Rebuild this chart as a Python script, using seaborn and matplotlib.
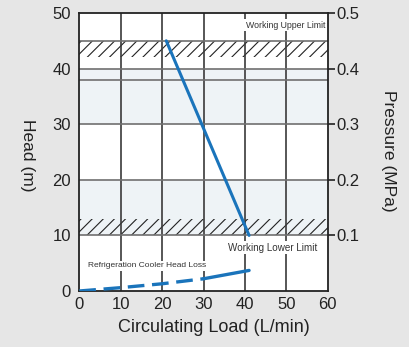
import matplotlib
matplotlib.use("Agg")
import matplotlib.pyplot as plt
import seaborn as sns
import pandas as pd

# pump curve (head vs flow)
pump_flow = [21, 41]
pump_head = [45, 10]

# refrigeration cooler head loss
loss_flow = [0, 10, 20, 30, 41]
loss_head = [0.0, 0.6, 1.3, 2.2, 3.7]

x_ticks = [0, 10, 20, 30, 40, 50, 60]
y_ticks = [0, 10, 20, 30, 40, 50]
p_ticks = [0.1, 0.2, 0.3, 0.4, 0.5]

sns.set_style("white")
plt.rcParams["font.family"] = ["Liberation Sans", "DejaVu Sans"]
plt.rcParams["hatch.linewidth"] = 0.8
plt.rcParams["hatch.color"] = "#222222"

ink = "#222222"
fig = plt.figure(figsize=(4.1, 3.47), dpi=100, facecolor="#e6e6e6")
ax = fig.add_axes([0.1934, 0.1614, 0.606, 0.8011])
ax.set_facecolor("white")

# shaded bands
ax.axhspan(30, 40, color="#eef3f6", lw=0, zorder=0)
ax.axhspan(10, 20, color="#eef3f6", lw=0, zorder=0)
# hatched limit zones
ax.axhspan(42, 45, facecolor="none", edgecolor=ink, hatch="///", lw=0, zorder=1)
ax.axhspan(10, 13, facecolor="none", edgecolor=ink, hatch="///", lw=0, zorder=1)

# grid
for xv in x_ticks[1:-1]:
    ax.axvline(xv, color="#3a3a3a", lw=1.2, zorder=2)
for yv in [10, 20, 30, 38, 40, 45]:
    ax.axhline(yv, color="#707070", lw=1.2, zorder=2)

blue = "#1a74bb"
sns.lineplot(x=pump_flow, y=pump_head, ax=ax, color=blue, lw=2.2, zorder=4)
df = pd.DataFrame({"flow": loss_flow, "head": loss_head})
sns.lineplot(data=df[df.flow <= 30], x="flow", y="head", ax=ax, color=blue, lw=2.4,
             dashes=(5, 2.3), zorder=4)
sns.lineplot(data=df[df.flow >= 30], x="flow", y="head", ax=ax, color=blue, lw=2.4, zorder=4)

box = dict(facecolor="white", edgecolor="none", pad=1)
ax.text(49.8, 47.8, "Working Upper Limit", fontsize=6.3, ha="center", va="center", color="#333333",
        bbox=box, zorder=3)
ax.text(46.7, 7.8, "Working Lower Limit", fontsize=7.1, ha="center", va="center", color="#333333",
        bbox=box, zorder=3)
ax.text(2, 4.5, "Refrigeration Cooler Head Loss", fontsize=6.0, ha="left", va="center", color="#333333",
        bbox=box, zorder=3)

ax.set_xlim(0, 60)
ax.set_ylim(0, 50)
ax.set_xticks(x_ticks)
ax.set_yticks(y_ticks)
ax.tick_params(axis="both", length=0, labelsize=12, colors=ink)
ax.tick_params(axis="x", pad=4)
ax.tick_params(axis="y", pad=6)
for s in ax.spines.values():
    s.set_color(ink)
    s.set_linewidth(1.3)

ax.set_xlabel("Circulating Load (L/min)", fontsize=13, color=ink, va="center", ha="center")
ax.xaxis.set_label_coords(0.54, -0.133)
ax.set_ylabel("Head (m)", fontsize=12.5, color=ink, rotation=-90, va="center", ha="center")
ax.yaxis.set_label_coords(-0.2085, 0.489)

ax2 = ax.twinx()
ax2.set_ylim(0, 0.5)
ax2.set_yticks(p_ticks)
ax2.set_yticklabels([f"{p:.1f}" for p in p_ticks])
ax2.tick_params(axis="y", length=5, width=1.2, pad=1, labelsize=12, colors=ink)
for s in ax2.spines.values():
    s.set_visible(False)
ax2.set_ylabel("Pressure (MPa)", fontsize=12.5, color=ink, rotation=-90, va="center", ha="center")
ax2.yaxis.set_label_coords(1.243, 0.503)

fig.savefig("out.png", dpi=100, facecolor=fig.get_facecolor())
